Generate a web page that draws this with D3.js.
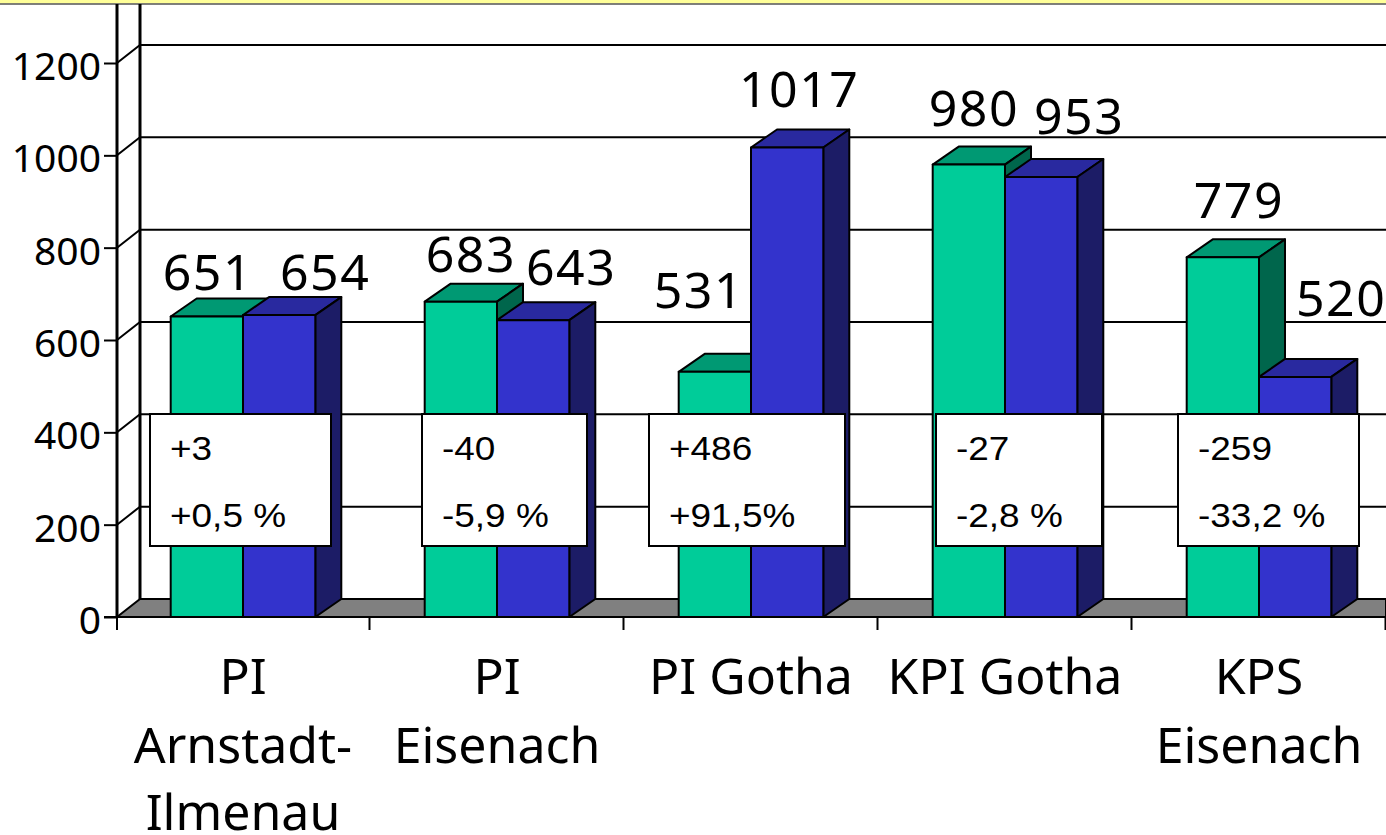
<!DOCTYPE html>
<html>
<head>
<meta charset="utf-8">
<script src="https://cdnjs.cloudflare.com/ajax/libs/d3/7.8.5/d3.min.js"></script>
<style>
  html, body { margin: 0; padding: 0; background: #fff; overflow: hidden; }
  svg { display: block; }
  .tick-label { font-family: "Noto Sans", sans-serif; font-size: 39px; fill: #000; }
  .big { font-family: "Noto Sans", sans-serif; font-size: 50px; fill: #000; }
  .val { letter-spacing: 1.5px; }
  .note { font-family: "Liberation Sans", sans-serif; font-size: 33px; fill: #000; }
</style>
</head>
<body>
<svg width="1386" height="835"></svg>
<script>
var categories = [["PI", "Arnstadt-", "Ilmenau"], ["PI", "Eisenach"], ["PI Gotha"], ["KPI Gotha"], ["KPS", "Eisenach"]];
var greenValues = [651, 683, 531, 980, 779];
var blueValues = [654, 643, 1017, 953, 520];
var yTicks = [0, 200, 400, 600, 800, 1000, 1200];
var noteLines1 = ["+3", "-40", "+486", "-27", "-259"];
var noteLines2 = ["+0,5 %", "-5,9 %", "+91,5%", "-2,8 %", "-33,2 %"];

// hand placed in the original, so offsets from the bar centre / bar top
var greenNudge = [[1, -26], [10, -30], [-16, -64], [5, -39], [16, -39]];
var blueNudge = [[46, -25], [38, -35], [12, -40], [38, -43], [46, -61]];
var noteBoxes = [[150, 181], [422, 165], [649, 196], [936, 166], [1178, 181]];

var svg = d3.select("svg");

var width = 1386,
    left = 117,
    right = 1385,
    top0 = 4,
    base = 617,
    depthX = 23,
    depthY = -18,
    barW = 72.3,
    barDX = 26;

var x = d3.scaleBand()
    .domain(d3.range(categories.length))
    .range([right - 254 * categories.length, right]);

var tickX = d3.scaleLinear()
    .domain([0, categories.length])
    .range([right - 254 * categories.length, right]);

var y = d3.scaleLinear()
    .domain([0, 1200])
    .range([base, 63]);

// strip along the top
svg.append("rect").attr("width", width).attr("height", 3.5).attr("fill", "#ffff99");
svg.append("line").attr("x1", 0).attr("x2", width).attr("y1", 4).attr("y2", 4)
    .attr("stroke", "#555").attr("stroke-width", 1.5);

// walls and grid
var grid = svg.append("g").attr("stroke", "#000").attr("stroke-width", 2).attr("fill", "none");

grid.selectAll(".grid").data(yTicks.slice(1)).join("path")
    .attr("class", "grid")
    .attr("d", function(d) {
        return "M" + left + "," + y(d) + "L" + (left + depthX) + "," + (y(d) + depthY) + "H" + width;
    });

svg.append("path")
    .attr("d", "M" + left + "," + base + "L" + (left + depthX) + "," + (base + depthY) + "H" + width + "V" + base + "Z")
    .attr("fill", "#808080").attr("stroke", "#000").attr("stroke-width", 2);

grid.append("line").attr("x1", left).attr("x2", left).attr("y1", top0).attr("y2", base).attr("stroke-width", 3);
grid.append("line").attr("x1", left + depthX).attr("x2", left + depthX).attr("y1", top0).attr("y2", base + depthY).attr("stroke-width", 3);

// axes
var yAxis = svg.append("g")
    .attr("transform", "translate(" + left + ",0)")
    .call(d3.axisLeft(y).tickValues(yTicks).tickSize(13).tickPadding(3).tickFormat(d3.format("d")));
yAxis.select(".domain").remove();
yAxis.selectAll("line").attr("stroke", "#000").attr("stroke-width", 2);
yAxis.selectAll("text").attr("class", "tick-label").attr("dy", "0.42em").attr("fill", null);
yAxis.attr("font-size", null).attr("font-family", null);

var xAxis = svg.append("g")
    .attr("transform", "translate(0," + base + ")")
    .call(d3.axisBottom(tickX).tickValues(d3.range(1, categories.length + 1)).tickSize(13).tickFormat(""));
xAxis.select(".domain").remove();
xAxis.selectAll("line").attr("stroke", "#000").attr("stroke-width", 2);
xAxis.append("line").attr("x1", left).attr("x2", left).attr("y2", 13)
    .attr("stroke", "#000").attr("stroke-width", 2);

svg.append("line").attr("x1", left - 13).attr("x2", width).attr("y1", base).attr("y2", base)
    .attr("stroke", "#000").attr("stroke-width", 2);

// category labels
var lineY = [694, 763, 830];
svg.selectAll(".cat").data(categories).join("text")
    .attr("class", "big cat")
    .attr("text-anchor", "middle")
    .selectAll("tspan").data(function(d, i) { return d.map(function(t, j) { return {t: t, j: j, i: i}; }); }).join("tspan")
    .attr("x", function(d) { return x(d.i) + x.bandwidth() / 2 + 1; })
    .attr("y", function(d) { return lineY[d.j]; })
    .text(function(d) { return d.t; });

// bars
function barLeft(i, offset) {
    return x(i) + x.bandwidth() / 2 + 1 + offset * barW;
}

function drawBars(values, offset, front, topCol, sideCol) {
    var g = svg.append("g").attr("stroke", "#000").attr("stroke-width", 2).attr("stroke-linejoin", "round");
    values.forEach(function(v, i) {
        var x0 = barLeft(i, offset), x1 = x0 + barW, yv = y(v);
        g.append("path").attr("fill", topCol)
            .attr("d", d3.line()([[x0, yv], [x0 + barDX, yv + depthY], [x1 + barDX, yv + depthY], [x1, yv]]) + "Z");
        g.append("path").attr("fill", sideCol)
            .attr("d", d3.line()([[x1, yv], [x1 + barDX, yv + depthY], [x1 + barDX, base + depthY], [x1, base]]) + "Z");
        g.append("rect").attr("x", x0).attr("y", yv).attr("width", barW).attr("height", base - yv).attr("fill", front);
    });
}
drawBars(greenValues, -1, "#00cc99", "#009973", "#00664c");
drawBars(blueValues, 0, "#3333cc", "#29299f", "#1c1c66");

// value labels
function drawLabels(values, offset, nudge) {
    svg.append("g").selectAll("text").data(values).join("text")
        .attr("class", "big val")
        .attr("text-anchor", "middle")
        .attr("x", function(d, i) { return barLeft(i, offset) + barW / 2 + nudge[i][0]; })
        .attr("y", function(d, i) { return y(d) + nudge[i][1]; })
        .text(function(d) { return d; });
}
drawLabels(greenValues, -1, greenNudge);
drawLabels(blueValues, 0, blueNudge);

// change boxes
var notes = svg.append("g").selectAll("g").data(noteBoxes).join("g")
    .attr("transform", function(d) { return "translate(" + d[0] + ",414)"; });
notes.append("rect")
    .attr("width", function(d) { return d[1]; })
    .attr("height", 132)
    .attr("fill", "#fff").attr("stroke", "#000").attr("stroke-width", 2);
notes.append("text").attr("class", "note")
    .attr("transform", "translate(20,46) scale(1.12,1)")
    .text(function(d, i) { return noteLines1[i]; });
notes.append("text").attr("class", "note")
    .attr("transform", "translate(20,113) scale(1.12,1)")
    .text(function(d, i) { return noteLines2[i]; });
</script>
</body>
</html>
